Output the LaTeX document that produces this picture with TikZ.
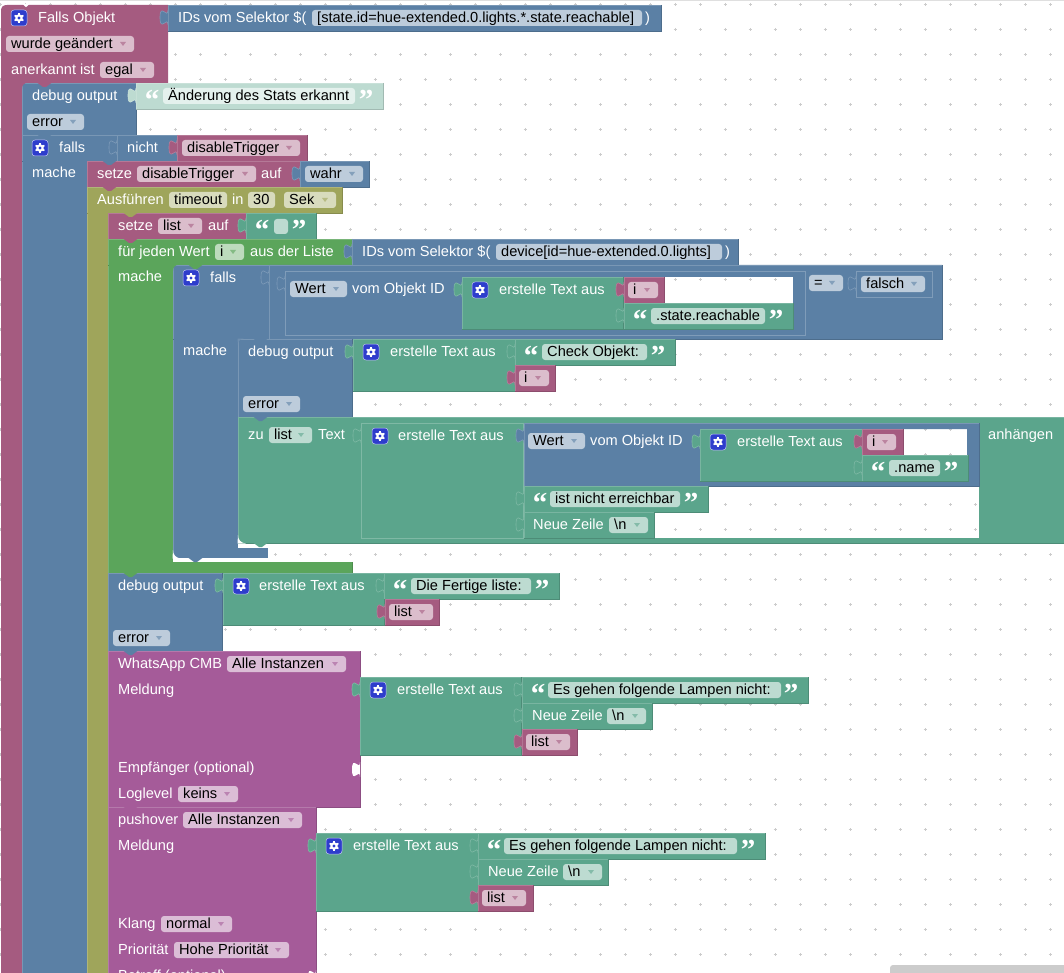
\documentclass[tikz,border=0pt]{standalone}
\usepackage{fontspec}
\setmainfont{Liberation Sans}
\newfontfamily\qfont{Liberation Serif}
\definecolor{ev}{HTML}{A55B80}
\definecolor{bl}{HTML}{5B80A5}
\definecolor{tl}{HTML}{5BA58C}
\definecolor{gn}{HTML}{5BA55B}
\definecolor{ol}{HTML}{9FA55B}
\definecolor{pu}{HTML}{A55B99}
\definecolor{pale}{HTML}{BDDBD1}
\definecolor{gearblue}{HTML}{2E3DCC}
\newcount\nc
\tikzset{
  lbl/.style={anchor=base west,inner sep=0pt,text=white,font=\fontsize{14.6}{16}\selectfont},
  ftx/.style={anchor=base west,inner sep=0pt,text=black,font=\fontsize{14.6}{16}\selectfont},
  qmark/.style={anchor=base,inner sep=0pt,text=white,font=\qfont\bfseries\fontsize{29}{29}\selectfont},
}
\newcommand{\blk}[5]{%
  \fill[#1] (#2,#3) rectangle (#4,#5);
  \draw[#1!82!white,line width=.7pt] (#2,#5) -- (#2,#3) -- (#4,#3);
  \draw[#1!85!black,line width=.7pt] (#4,#3) -- (#4,#5) -- (#2,#5);}
\newcommand{\colm}[5]{%
  \fill[#1] (#2,#3) rectangle (#4,#5);
  \draw[#1!82!white,line width=.7pt] (#2,#3) -- (#2,#5);}
\newcommand{\blkH}[9]{%
  \fill[#1,even odd rule] (#2,#3) rectangle (#4,#5) (#6,#7) rectangle (#8,#9);
  \draw[#1!82!white,line width=.7pt] (#2,#5) -- (#2,#3) -- (#4,#3);
  \draw[#1!85!black,line width=.7pt] (#4,#3) -- (#4,#5) -- (#2,#5);}
\newcommand{\tabb}[3]{% x y colour
  \filldraw[fill=#3,draw=#3!78!white,line width=.6pt] (#1,#2+5) .. controls (#1,#2+15) and (#1-8,#2-3) .. (#1-8,#2+12.5) .. controls (#1-8,#2+28) and (#1,#2+10) .. (#1,#2+20);}
\newcommand{\socket}[2]{%
  \fill[white] (#1,#2+5) .. controls (#1,#2+15) and (#1-8,#2-3) .. (#1-8,#2+12.5) .. controls (#1-8,#2+28) and (#1,#2+10) .. (#1,#2+20) -- cycle;}
\newcommand{\notch}[3]{% x y colour of block above
  \fill[#3] (#1+15,#2-.5) -- (#1+21,#2+4) -- (#1+24,#2+4) -- (#1+30,#2-.5) -- cycle;}
\newcommand{\cornTL}[3]{\fill[#3] (#1-.5,#2-.5) -- (#1+6,#2-.5) .. controls (#1+2,#2) and (#1,#2+2) .. (#1,#2+6) -- cycle;}
\newcommand{\cornBL}[3]{\fill[#3] (#1-.5,#2+.5) -- (#1+8,#2+.5) .. controls (#1+3,#2) and (#1,#2-3) .. (#1,#2-8) -- cycle;}
\newcommand{\lab}[3]{\global\advance\nc by 1 \node[lbl] (t\the\nc) at (#1,#2+4.8) {#3};}
\newcommand{\fld}[5]{% colour x1 x2 yc text
  \global\advance\nc by 1
  \fill[#1!40!white,rounded corners=3pt] (#2,#4-8) rectangle (#3,#4+8);
  \node[ftx] (t\the\nc) at (#2+5,#4+4.8) {#5};}
\newcommand{\fldA}[5]{%
  \fld{#1}{#2}{#3}{#4}{#5}
  \fill[#1!75!white] (#3-14,#4-2) -- (#3-8,#4-2) -- (#3-11,#4+2) -- cycle;}
\newcommand{\qq}[3]{% xleft xright ytop
  \global\advance\nc by 1
  \node[qmark] (t\the\nc) at (#1+16,#3+26.5) {“};
  \global\advance\nc by 1
  \node[qmark] (t\the\nc) at (#2-17,#3+26.5) {”};}
\newcommand{\gear}[2]{%
  \filldraw[fill=gearblue,draw=white!70!gearblue,line width=.5pt,rounded corners=3pt] (#1-8,#2-8) rectangle (#1+8,#2+8);
  \foreach \a in {30,90,...,330} {\draw[white,line width=1.6pt] (#1,#2) ++(\a:2.5) -- ++(\a:2.6);}
  \fill[white] (#1,#2) circle (3.8);
  \fill[gearblue] (#1,#2) circle (1.7);}
\begin{document}
\begin{tikzpicture}[x=1pt,y=-1pt]
\useasboundingbox (0,0) rectangle (1064,973);
\clip (0,0) rectangle (1064,973);
\fill[white] (0,0) rectangle (1064,973);
\draw[gray!25,line width=1pt] (0,0.5) -- (1064,0.5);
% grid
\foreach \gx in {0,25,...,1050} \foreach \gy in {4.5,29.5,...,970} {
  \draw[gray!40,line width=.8pt] (\gx-1.5,\gy) -- (\gx+1.5,\gy) (\gx,\gy-1.5) -- (\gx,\gy+1.5);}
% event block
\fill[ev] (1,11) .. controls (1,7) and (3,5) .. (7,5) -- (168,5) -- (168,83) -- (22,83) -- (22,990) -- (1,990) -- cycle;
\fill[white] (22.5,4) -- (26,7.2) -- (29.5,4) -- cycle;
\blk{bl}{168}{5}{661}{31}
\tabb{168}{5}{bl}
% debug 1
\blk{bl}{22}{83}{136}{135}
\blk{pale}{136}{83}{383}{109}
\cornTL{22}{83}{ev}
% falls 1
\colm{bl}{22}{135}{87}{980}
\blk{bl}{22}{135}{117}{161}
\fill[bl] (23,158) rectangle (86.5,163);
\blk{bl}{117}{135}{177}{161}
\blk{ev}{177}{135}{307}{161}
% setze
\blk{ev}{87}{161}{300}{187}
\blk{bl}{300}{161}{369}{187}
% Ausfuehren
\colm{ol}{87}{187}{108}{980}
\blk{ol}{87}{187}{342}{213}
\fill[ol] (88,210) rectangle (107.5,215);
% setze list
\blk{ev}{108}{213}{246}{239}
\blk{tl}{246}{213}{316}{239}
% fuer jeden
\colm{gn}{108}{239}{173}{573}
\blk{gn}{108}{239}{352}{265}
\fill[gn] (109,262) rectangle (172.5,268);
\fill[gn] (108.5,562) rectangle (352,572.6);
\draw[gn!85!black,line width=.7pt] (352,562) -- (352,573) -- (108,573);
\blk{bl}{352}{239}{738}{265}
% falls 2
\colm{bl}{173}{265}{238}{557.5}
\blk{bl}{173}{265}{269}{339}
\fill[bl] (174,336) rectangle (237.5,342);
\fill[bl] (238,548) rectangle (268,557.5);
\blkH{bl}{269}{265}{942}{339}{664}{277}{793}{303}
\cornTL{173}{265}{gn}
\cornBL{173}{558}{white}
% Wert 1 outline
\draw[bl!78!white,line width=.7pt] (285,271) rectangle (805,335);
\draw[bl!78!white,line width=.7pt] (856,271) rectangle (932,297);
\blk{tl}{462}{277}{623}{329}
\blk{ev}{624}{277}{664}{303}
\blk{tl}{624}{303}{793}{329}
% debug 2
\blk{bl}{238}{339}{352}{417}
\cornTL{238}{339}{bl!88!white}
\blk{tl}{353}{339}{515}{391}
\blk{tl}{515}{339}{675}{365}
\blk{ev}{515}{365}{555}{391}
% zu list
\blkH{tl}{238}{417}{1075}{543}{524}{423}{979}{538}
\cornBL{238}{543}{white}
\draw[tl!78!white,line width=.7pt] (361,423) rectangle (523,538);
\blkH{bl}{524}{423}{979}{486}{903}{429}{967}{455}
\blk{tl}{700}{429}{862}{481}
\blk{ev}{862}{429}{903}{455}
\blk{tl}{862}{455}{968}{481}
\blk{tl}{524}{486}{708}{512}
\blk{tl}{524}{512}{654}{538}
% debug 3
\blk{bl}{108}{573}{222}{651}
\blk{tl}{223}{573}{384}{625}
\blk{tl}{384}{573}{559}{599}
\blk{ev}{385}{599}{439}{625}
% WhatsApp
\blk{pu}{108}{651}{360}{807}
\socket{360}{757}
\blk{tl}{360}{677}{521}{755}
\blk{tl}{522}{677}{808}{703}
\blk{tl}{522}{703}{652}{729}
\blk{ev}{522}{729}{577}{755}
% pushover
\blk{pu}{108}{807}{316}{980}
\socket{316}{965}
\blk{tl}{316}{833}{478}{911}
\blk{tl}{478}{833}{765}{859}
\blk{tl}{478}{859}{608}{885}
\blk{ev}{478}{885}{533}{911}
% tabs
\tabb{136}{83}{pale}
\tabb{117}{135}{bl}
\tabb{177}{135}{ev}
\tabb{300}{161}{bl}
\tabb{246}{213}{tl}
\tabb{352}{239}{bl}
\tabb{269}{265}{bl}
\tabb{285}{271}{bl}
\tabb{462}{277}{tl}
\tabb{624}{277}{ev}
\tabb{624}{303}{tl}
\tabb{856}{271}{bl}
\tabb{353}{339}{tl}
\tabb{515}{339}{tl}
\tabb{515}{365}{ev}
\tabb{361}{423}{tl}
\tabb{524}{423}{bl}
\tabb{524}{486}{tl}
\tabb{524}{512}{tl}
\tabb{700}{429}{tl}
\tabb{862}{429}{ev}
\tabb{862}{455}{tl}
\tabb{223}{573}{tl}
\tabb{384}{573}{tl}
\tabb{385}{599}{ev}
\tabb{360}{677}{tl}
\tabb{522}{677}{tl}
\tabb{522}{703}{tl}
\tabb{522}{729}{ev}
\tabb{316}{833}{tl}
\tabb{478}{833}{tl}
\tabb{478}{859}{tl}
\tabb{478}{885}{ev}
% notches
\notch{22}{83}{ev}
\notch{22}{135}{bl}
\notch{87}{161}{bl}
\notch{87}{187}{ev}
\notch{108}{213}{ol}
\notch{108}{239}{ev}
\notch{173}{265}{gn}
\notch{238}{339}{bl}
\notch{238}{417}{bl}
\notch{238}{543}{tl}
\notch{173}{558}{bl}
\notch{108}{573}{gn}
\notch{108}{651}{bl}
\notch{108}{807}{pu}
% gears
\gear{19}{18}
\gear{40}{148}
\gear{191}{278}
\gear{480}{290}
\gear{371}{352}
\gear{380}{436}
\gear{718}{442}
\gear{241}{586}
\gear{378}{690}
\gear{334}{846}
% texts
\lab{38}{17.5}{Falls Objekt}
\lab{178}{17.5}{IDs vom Selektor \$(}
\fld{bl}{312}{642}{18}{[state.id=hue-extended.0.lights.*.state.reachable]}
\lab{645}{17.5}{)}
\fldA{ev}{6}{134}{44}{wurde geändert}
\lab{11}{70}{anerkannt ist}
\fldA{ev}{100}{154}{70}{egal}
\lab{32}{96}{debug output}
\fld{pale}{163}{355}{96}{Änderung des Stats erkannt}
\qq{136}{383}{83}
\fldA{bl}{27}{84}{122}{error}
\lab{59}{148}{falls}
\lab{32}{173}{mache}
\lab{127}{148}{nicht}
\fldA{ev}{182}{300}{148}{disableTrigger}
\lab{97}{174}{setze}
\fldA{ev}{137}{256}{174}{disableTrigger}
\lab{261}{174}{auf}
\fldA{bl}{305}{363}{174}{wahr}
\lab{97}{200}{Ausführen}
\fld{ol}{169}{227}{200}{timeout}
\lab{232}{200}{in}
\fld{ol}{248}{275}{200}{30}
\fldA{ol}{284}{336}{200}{Sek}
\lab{118}{226}{setze}
\fldA{ev}{158}{202}{226}{list}
\lab{208}{226}{auf}
\qq{246}{316}{213}
\fill[tl!40!white,rounded corners=3pt] (274,219) rectangle (288,234);
\lab{118}{252}{für jeden Wert}
\fldA{gn}{215}{244}{252}{i}
\lab{250}{252}{aus der Liste}
\lab{362}{252}{IDs vom Selektor \$(}
\fld{bl}{496}{722}{252}{device[id=hue-extended.0.lights]}
\lab{725}{252}{)}
\lab{118}{277}{mache}
\lab{210}{278}{falls}
\lab{183}{351}{mache}
\fldA{bl}{290}{347}{289}{Wert}
\lab{352}{289}{vom Objekt ID}
\lab{499}{290}{erstelle Text aus}
\fldA{ev}{628}{658}{290}{i}
\fld{tl}{651}{765}{316}{.state.reachable}
\qq{624}{793}{303}
\fldA{bl}{809}{843}{283}{=}
\fldA{bl}{861}{925}{284}{falsch}
\lab{248}{352}{debug output}
\lab{390}{352}{erstelle Text aus}
\fld{tl}{542}{647}{352}{Check Objekt:}
\qq{515}{675}{339}
\fldA{ev}{519}{549}{378}{i}
\fldA{bl}{243}{300}{404}{error}
\lab{248}{435}{zu}
\fldA{tl}{269}{312}{435}{list}
\lab{318}{435}{Text}
\lab{398}{436}{erstelle Text aus}
\fldA{bl}{528}{585}{441}{Wert}
\lab{590}{441}{vom Objekt ID}
\lab{737}{442}{erstelle Text aus}
\fldA{ev}{867}{896}{442}{i}
\fld{tl}{889}{940}{468}{.name}
\qq{862}{968}{455}
\lab{988}{435}{anhängen}
\fld{tl}{550}{680}{499}{ist nicht erreichbar}
\qq{524}{708}{486}
\lab{533}{525}{Neue Zeile}
\fldA{tl}{609}{648}{525}{\textbackslash n}
\lab{118}{586}{debug output}
\lab{259}{586}{erstelle Text aus}
\fld{tl}{411}{531}{586}{Die Fertige liste:}
\qq{384}{559}{573}
\fldA{ev}{389}{433}{612}{list}
\fldA{bl}{113}{170}{638}{error}
\lab{118}{664}{WhatsApp CMB}
\fldA{pu}{227}{346}{664}{Alle Instanzen}
\lab{118}{690}{Meldung}
\lab{397}{690}{erstelle Text aus}
\fld{tl}{548}{781}{690}{Es gehen folgende Lampen nicht:}
\qq{522}{808}{677}
\lab{532}{716}{Neue Zeile}
\fldA{tl}{607}{646}{716}{\textbackslash n}
\fldA{ev}{526}{570}{742}{list}
\lab{118}{768}{Empfänger (optional)}
\lab{118}{794}{Loglevel}
\fldA{pu}{178}{238}{794}{keins}
\lab{118}{820}{pushover}
\fldA{pu}{183}{302}{820}{Alle Instanzen}
\lab{118}{846}{Meldung}
\lab{353}{846}{erstelle Text aus}
\fld{tl}{504}{737}{846}{Es gehen folgende Lampen nicht:}
\qq{478}{765}{833}
\lab{488}{872}{Neue Zeile}
\fldA{tl}{563}{602}{872}{\textbackslash n}
\fldA{ev}{482}{526}{898}{list}
\lab{118}{924}{Klang}
\fldA{pu}{161}{232}{924}{normal}
\lab{118}{950}{Priorität}
\fldA{pu}{174}{289}{950}{Hohe Priorität}
\lab{118}{976}{Betreff (optional)}
% scrollbar
\fill[gray!40,rounded corners=3pt] (890,965) -- (1070,965) -- (1070,980) -- (890,980) -- cycle;
\end{tikzpicture}
\end{document}
